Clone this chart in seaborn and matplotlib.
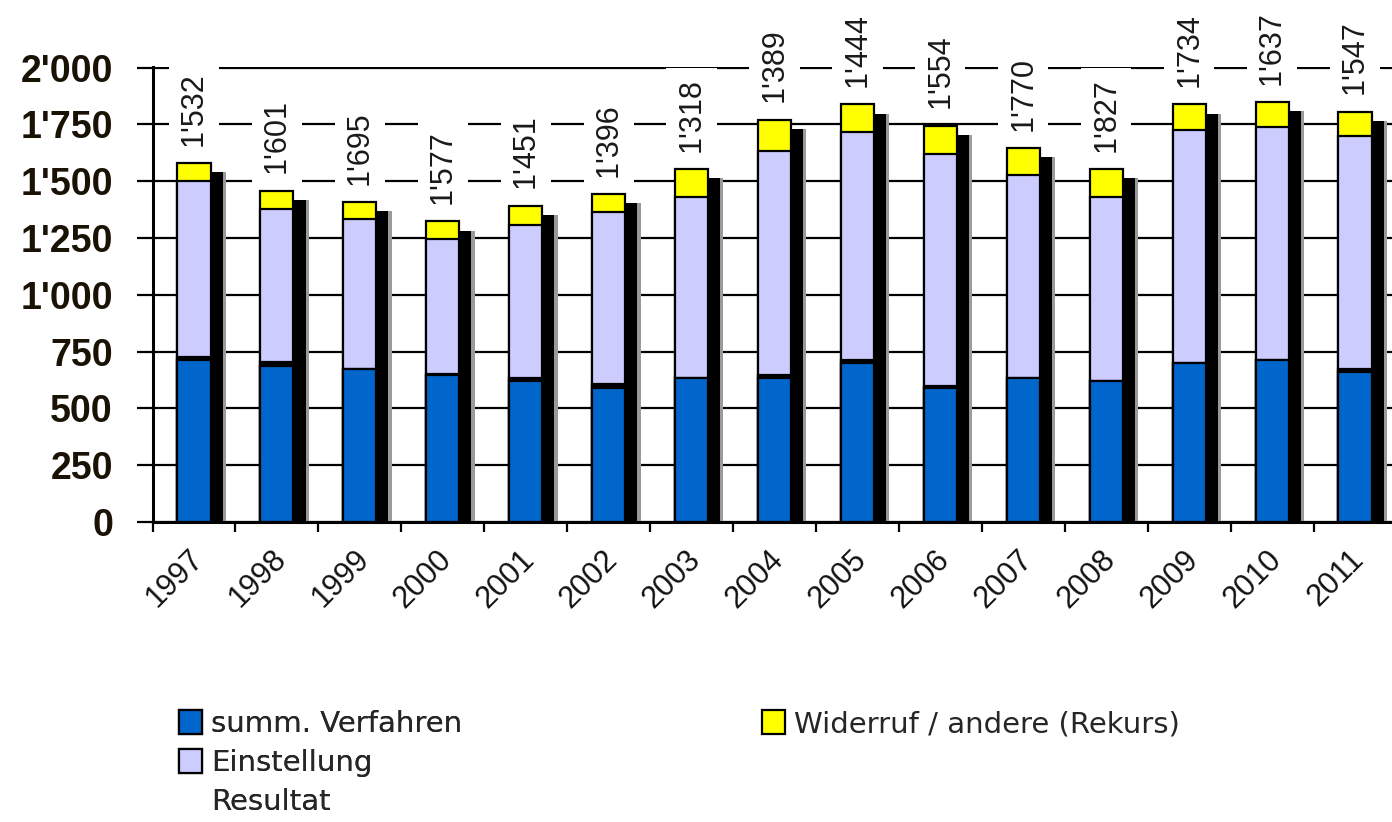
import matplotlib
matplotlib.use("Agg")
import numpy as np
import pandas as pd
import matplotlib.pyplot as plt
import seaborn as sns
from matplotlib.patches import Patch
from matplotlib.transforms import ScaledTranslation
from matplotlib.ticker import FuncFormatter, FixedLocator

# ---------------- data ----------------
years = [str(y) for y in range(1997, 2012)]
summ_verfahren = [712, 688, 675, 645, 622, 588, 633, 633, 698, 588, 634, 621, 700, 713, 659]
trennband = [16, 18, 0, 5, 12, 20, 0, 16, 14, 9, 0, 0, 0, 0, 14]
einstellung = [771, 674, 661, 595, 675, 756, 799, 986, 1003, 1024, 892, 811, 1027, 1028, 1028]
widerruf = [82, 79, 71, 78, 83, 80, 121, 136, 123, 124, 121, 121, 111, 107, 106]
resultat = [1532, 1601, 1695, 1577, 1451, 1396, 1318, 1389, 1444, 1554, 1770, 1827, 1734, 1637, 1547]
y_ticks = [0, 250, 500, 750, 1000, 1250, 1500, 1750, 2000]

# ---------------- style ----------------
sns.set_style("white")
plt.rcParams["font.family"] = ["Liberation Sans", "DejaVu Sans"]

C_BLUE = "#0066CC"
C_LAV = "#CCCCFF"
C_YEL = "#FFFF00"

df = pd.DataFrame({
    "year": years,
    "blue": summ_verfahren,
    "band": trennband,
    "lav": einstellung,
    "yel": widerruf,
})
df["c1"] = df["blue"]
df["c2"] = df["c1"] + df["band"]
df["c3"] = df["c2"] + df["lav"]
df["c4"] = df["c3"] + df["yel"]
df["shadow"] = df["c4"] - 40

fig = plt.figure(figsize=(13.92, 8.22), dpi=100)
ax = fig.add_axes([152.5 / 1392, 1 - 522 / 822, 1244 / 1392, 455 / 822])

BW = 0.4
# shadows
sns.barplot(data=df, x="year", y="shadow", color="#9a9a9a", saturation=1,
            width=BW, errorbar=None, linewidth=0, ax=ax)
for p in ax.containers[-1]:
    p.set_x(p.get_x() + 0.185)
sns.barplot(data=df, x="year", y="shadow", color="black", saturation=1,
            width=BW, errorbar=None, linewidth=0, ax=ax)
for p in ax.containers[-1]:
    p.set_x(p.get_x() + 0.145)

# stacked layers (drawn as overlapping cumulative bars)
for col, colr in [("c4", C_YEL), ("c3", C_LAV), ("c2", "black"), ("c1", C_BLUE)]:
    sns.barplot(data=df, x="year", y=col, color=colr, saturation=1, width=BW,
                errorbar=None, edgecolor="black", linewidth=1.6, ax=ax)

# value labels
for i, (tot, lab) in enumerate(zip(df["c4"], resultat)):
    txt = f"{lab // 1000}'{lab % 1000:03d}"
    ax.annotate(txt, (i, tot), xytext=(0, 12.5), textcoords="offset points",
                rotation=90, ha="center", va="bottom", fontsize=22,
                color="#1a1a1a", annotation_clip=False, zorder=5,
                bbox=dict(boxstyle="square,pad=0.33", fc="white", ec="none"))

# axes styling
ax.set_xlim(-0.5, len(years) - 0.5)
ax.set_ylim(0, 2003)
ax.set_xlabel("")
ax.set_ylabel("")
ax.yaxis.set_major_locator(FixedLocator(y_ticks))
ax.yaxis.set_major_formatter(FuncFormatter(
    lambda v, _: f"{int(v) // 1000}'{int(v) % 1000:03d}" if v >= 1000 else f"{int(v)}"))
ax.yaxis.grid(True, color="black", linewidth=1.6)
ax.xaxis.grid(False)
ax.set_axisbelow(True)
for s in ["top", "right"]:
    ax.spines[s].set_visible(False)
for s in ["left", "bottom"]:
    ax.spines[s].set_color("black")
    ax.spines[s].set_linewidth(2.2)

ax.tick_params(axis="y", which="major", length=11.5, width=1.6, color="black",
               pad=17, labelsize=27, direction="out", left=True)
for t in ax.get_yticklabels():
    t.set_fontweight("bold")
    t.set_color("#1a1205")

ax.set_xticks(range(len(years)))
ax.set_xticklabels(years)
ax.set_xticks(np.arange(-0.5, len(years), 1.0), minor=True)
ax.tick_params(axis="x", which="major", length=0, pad=16, labelsize=22, bottom=True)
ax.tick_params(axis="x", which="minor", length=7, width=1.6, color="black",
               direction="out", bottom=True)
offset = ScaledTranslation(-6 / 100, 0, fig.dpi_scale_trans)
for t in ax.get_xticklabels():
    t.set_rotation(45)
    t.set_ha("right")
    t.set_va("top")
    t.set_rotation_mode("anchor")
    t.set_color("#111111")
    t.set_transform(t.get_transform() + offset)

# legends
leg_font = {"family": ["DejaVu Sans"], "size": 21}
h1 = [Patch(fc=C_BLUE, ec="black", lw=1.6),
      Patch(fc=C_LAV, ec="black", lw=1.6),
      Patch(fc="none", ec="none")]
leg1 = fig.legend(h1, ["summ. Verfahren", "Einstellung", "Resultat"],
                  loc="upper left", bbox_to_anchor=(179 / 1392, 1 - 710 / 822),
                  frameon=False, prop=leg_font, handlelength=0.8, handleheight=0.85,
                  handletextpad=0.3, labelspacing=0.38, borderpad=0, borderaxespad=0)
h2 = [Patch(fc=C_YEL, ec="black", lw=1.6)]
leg2 = fig.legend(h2, ["Widerruf / andere (Rekurs)"],
                  loc="upper left", bbox_to_anchor=(762 / 1392, 1 - 710 / 822),
                  frameon=False, prop=leg_font, handlelength=0.8, handleheight=0.85,
                  handletextpad=0.3, borderpad=0, borderaxespad=0)
fig.add_artist(leg1)

fig.savefig("out.png", dpi=100, facecolor="white")
